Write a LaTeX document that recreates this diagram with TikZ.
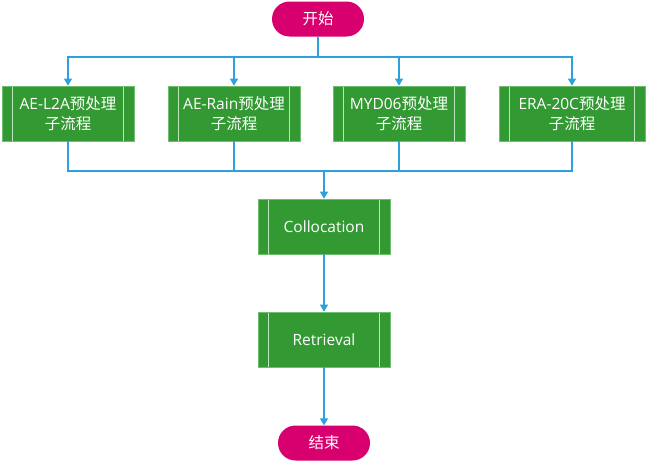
\documentclass[tikz,border=0pt]{standalone}
\usepackage{fontspec}
\setmainfont{Open Sans}
\newfontfamily\zh{Noto Sans CJK SC}
\usetikzlibrary{arrows.meta,shapes.misc}
\definecolor{boxgreen}{RGB}{51,153,51}
\definecolor{edgegreen}{RGB}{110,190,110}
\definecolor{innergreen}{RGB}{190,230,190}
\definecolor{termpink}{RGB}{216,0,110}
\definecolor{linkblue}{RGB}{45,160,222}
\tikzset{
  proc/.style={rectangle, fill=boxgreen, draw=edgegreen, line width=0.7pt,
    minimum width=132pt, minimum height=55pt, inner sep=0pt,
    text=white, align=center, font=\fontsize{15.5}{20}\selectfont,
    path picture={
      \draw[innergreen, line width=0.9pt]
        ([xshift=10.5pt]path picture bounding box.north west) --
        ([xshift=10.5pt]path picture bounding box.south west);
      \draw[innergreen, line width=0.9pt]
        ([xshift=-10.5pt]path picture bounding box.north east) --
        ([xshift=-10.5pt]path picture bounding box.south east);
    }},
  term/.style={rounded rectangle, fill=termpink, draw=none,
    minimum width=92pt, minimum height=35pt, inner sep=0pt,
    text=white, font=\zh\fontsize{15.5}{18}\selectfont},
  link/.style={draw=linkblue, line width=1.1pt},
  arr/.style={link, -{Triangle[width=8pt,length=7pt]}}
}
\begin{document}
\begin{tikzpicture}[x=1pt,y=-1pt]
\useasboundingbox (0,0) rectangle (647,463);
\node[term] (start) at (318,19) {开始};
\node[proc] (p1) at (68,113.5) {AE-L2A{\zh 预处理}\\{\zh 子流程}};
\node[proc] (p2) at (234,113.5) {AE-Rain{\zh 预处理}\\{\zh 子流程}};
\node[proc] (p3) at (399,113.5) {MYD06{\zh 预处理}\\{\zh 子流程}};
\node[proc, minimum width=146pt] (p4) at (572,113.5) {ERA-20C{\zh 预处理}\\{\zh 子流程}};
\node[proc] (col) at (324,226.5) {Collocation};
\node[proc] (ret) at (324,339.5) {Retrieval};
\node[term] (end) at (324,443) {结束};
\coordinate (split) at (318,57);
\coordinate (merge) at (324,171);
\draw[link] (start.south) -- (split);
\draw[arr] (split) -| (p1.north);
\draw[arr] (split) -| (p2.north);
\draw[arr] (split) -| (p3.north);
\draw[arr] (split) -| (p4.north);
\draw[link] (p1.south) |- (merge);
\draw[link] (p2.south) |- (merge);
\draw[link] (p3.south) |- (merge);
\draw[link] (p4.south) |- (merge);
\draw[arr] (merge) -- (col.north);
\draw[arr] (col.south) -- (ret.north);
\draw[arr] (ret.south) -- (end.north);
\end{tikzpicture}
\end{document}
